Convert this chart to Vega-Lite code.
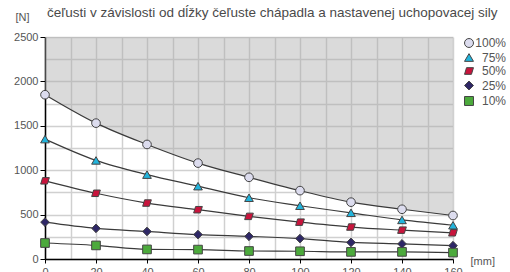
{
  "$schema": "https://vega.github.io/schema/vega-lite/v6.json",
  "width": 408,
  "height": 222,
  "autosize": {"type": "none"},
  "padding": {"left": 45, "top": 37, "right": 57, "bottom": 13},
  "background": "white",
  "title": {
    "text": "čeľusti v závislosti od dĺžky čeľuste chápadla a nastavenej uchopovacej sily",
    "anchor": "start",
    "frame": "group",
    "offset": 18,
    "dy": 26,
    "dx": 2,
    "fontSize": 13.5,
    "font": "Liberation Sans",
    "fontWeight": "normal",
    "color": "#4a4a4a"
  },
  "config": {
    "view": {"stroke": null},
    "font": "Liberation Sans"
  },
  "data": {
    "values": [
      {"x": 0, "s": "100%", "F": 1850}, {"x": 20, "s": "100%", "F": 1530}, {"x": 40, "s": "100%", "F": 1290}, {"x": 60, "s": "100%", "F": 1080}, {"x": 80, "s": "100%", "F": 920}, {"x": 100, "s": "100%", "F": 770}, {"x": 120, "s": "100%", "F": 640}, {"x": 140, "s": "100%", "F": 560}, {"x": 160, "s": "100%", "F": 490},
      {"x": 0, "s": "75%", "F": 1350}, {"x": 20, "s": "75%", "F": 1110}, {"x": 40, "s": "75%", "F": 950}, {"x": 60, "s": "75%", "F": 820}, {"x": 80, "s": "75%", "F": 690}, {"x": 100, "s": "75%", "F": 600}, {"x": 120, "s": "75%", "F": 520}, {"x": 140, "s": "75%", "F": 440}, {"x": 160, "s": "75%", "F": 380},
      {"x": 0, "s": "50%", "F": 880}, {"x": 20, "s": "50%", "F": 740}, {"x": 40, "s": "50%", "F": 630}, {"x": 60, "s": "50%", "F": 555}, {"x": 80, "s": "50%", "F": 480}, {"x": 100, "s": "50%", "F": 415}, {"x": 120, "s": "50%", "F": 360}, {"x": 140, "s": "50%", "F": 325}, {"x": 160, "s": "50%", "F": 295},
      {"x": 0, "s": "25%", "F": 415}, {"x": 20, "s": "25%", "F": 345}, {"x": 40, "s": "25%", "F": 310}, {"x": 60, "s": "25%", "F": 275}, {"x": 80, "s": "25%", "F": 255}, {"x": 100, "s": "25%", "F": 230}, {"x": 120, "s": "25%", "F": 187}, {"x": 140, "s": "25%", "F": 170}, {"x": 160, "s": "25%", "F": 150},
      {"x": 0, "s": "10%", "F": 180}, {"x": 20, "s": "10%", "F": 153}, {"x": 40, "s": "10%", "F": 108}, {"x": 60, "s": "10%", "F": 106}, {"x": 80, "s": "10%", "F": 90}, {"x": 100, "s": "10%", "F": 87}, {"x": 120, "s": "10%", "F": 80}, {"x": 140, "s": "10%", "F": 80}, {"x": 160, "s": "10%", "F": 72}
    ]
  },
  "encoding": {
    "x": {
      "field": "x", "type": "quantitative",
      "scale": {"domain": [0, 160], "nice": false, "zero": false},
      "axis": {
        "values": [0, 10, 20, 30, 40, 50, 60, 70, 80, 90, 100, 110, 120, 130, 140, 150, 160],
        "labelExpr": "datum.value % 20 == 0 ? format(datum.value, 'd') : ''",
        "grid": true, "gridColor": "#d0d0d0", "gridWidth": 1.5,
        "domainColor": "#000", "domainWidth": 1.5,
        "tickColor": {"condition": {"test": "datum.value % 20 != 0", "value": "transparent"}, "value": "#000"},
        "tickSize": 4, "tickWidth": 1,
        "labelColor": "#555", "labelFontSize": 11, "labelPadding": 3, "labelFlush": false,
        "title": "[mm]", "titleX": 425, "titleY": 2, "titleAlign": "left", "titleBaseline": "middle",
        "titleFontWeight": "normal", "titleFontSize": 11, "titleColor": "#555"
      }
    },
    "y": {
      "field": "F", "type": "quantitative",
      "scale": {"domain": [0, 2500], "nice": false},
      "axis": {
        "values": [0, 250, 500, 750, 1000, 1250, 1500, 1750, 2000, 2250, 2500],
        "labelExpr": "datum.value % 500 == 0 ? format(datum.value, 'd') : ''",
        "grid": true, "gridColor": "#d0d0d0", "gridWidth": 1.5,
        "domainColor": "#000", "domainWidth": 1.5,
        "tickColor": {"condition": {"test": "datum.value % 500 != 0", "value": "transparent"}, "value": "#000"},
        "tickSize": 5, "tickWidth": 1,
        "labelColor": "#555", "labelFontSize": 11, "labelPadding": 2,
        "title": "[N]", "titleAngle": 0, "titleX": -30, "titleY": -20, "titleAlign": "left", "titleBaseline": "middle",
        "titleFontWeight": "normal", "titleFontSize": 11, "titleColor": "#555"
      }
    }
  },
  "layer": [
    {
      "transform": [{"filter": "datum.s == '100%'"}],
      "mark": {"type": "area", "interpolate": "monotone", "fill": "#a9a9a9", "opacity": 0.43},
      "encoding": {"y2": {"datum": 2500}}
    },
    {
      "mark": {"type": "line", "interpolate": "monotone", "color": "#3a3a3a", "strokeWidth": 1.2},
      "encoding": {"detail": {"field": "s"}}
    },
    {
      "mark": {"type": "point", "filled": true, "stroke": "#444", "strokeWidth": 1, "size": 75, "opacity": 1},
      "encoding": {
        "color": {
          "field": "s", "type": "nominal",
          "scale": {"domain": ["100%", "75%", "50%", "25%", "10%"], "range": ["#dcdcee", "#22b4dc", "#c8143c", "#2e2766", "#4caa3c"]},
          "legend": {
            "orient": "none", "legendX": 418, "legendY": 0, "title": null,
            "labelAlign": "right", "labelOffset": 31, "labelFontSize": 12, "labelColor": "#555",
            "rowPadding": 1.5, "symbolSize": 80, "symbolStrokeColor": "#444", "symbolStrokeWidth": 1
          }
        },
        "shape": {
          "field": "s", "type": "nominal",
          "scale": {"domain": ["100%", "75%", "50%", "25%", "10%"], "range": ["circle", "triangle-up", "M -0.55 -0.75 L 1 -0.75 L 0.55 0.75 L -1 0.75 Z", "diamond", "square"]},
          "legend": null
        }
      }
    }
  ]
}
